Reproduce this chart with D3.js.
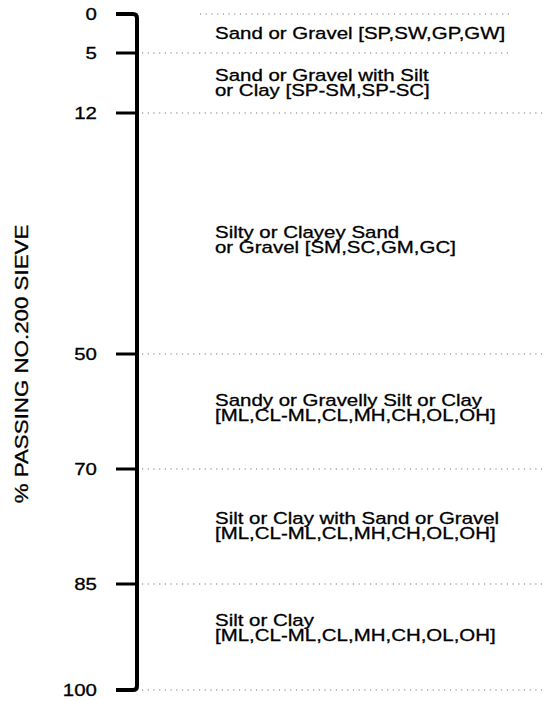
<!DOCTYPE html>
<html>
<head>
<meta charset="utf-8">
<script src="https://cdn.jsdelivr.net/npm/d3@7"></script>
<style>
  body { margin: 0; background: #fff; }
  text { font-family: "Liberation Sans", Arial, sans-serif; fill: #000; stroke: #000; stroke-width: 0.3px; }
</style>
</head>
<body>
<script>
// tick values along the % passing axis (schematic, not to scale)
const tickValues = [0, 5, 12, 50, 70, 85, 100];

// soil class labels, one per band between ticks
const bandLabels = [
  ["Sand or Gravel [SP,SW,GP,GW]"],
  ["Sand or Gravel with Silt", "or Clay [SP-SM,SP-SC]"],
  ["Silty or Clayey Sand", "or Gravel [SM,SC,GM,GC]"],
  ["Sandy or Gravelly Silt or Clay", "[ML,CL-ML,CL,MH,CH,OL,OH]"],
  ["Silt or Clay with Sand or Gravel", "[ML,CL-ML,CL,MH,CH,OL,OH]"],
  ["Silt or Clay", "[ML,CL-ML,CL,MH,CH,OL,OH]"]
];

const axisTitle = "% PASSING NO.200 SIEVE";

// layout
const width = 559, height = 701;
const axisX = 137;
const tickLen = 21;
const labelX = 215;
const lineH = 15;
const stretch = 1.24;
// pixel rows of the ticks on the printed schematic
const tickRows = [14, 53, 113, 354, 469, 584, 690];
const bandShift = [0, 0, 6, -4, -1, -9];

const y = d3.scaleLinear().domain(tickValues).range(tickRows);

const svg = d3.select('body').append('svg')
    .attr('width', width)
    .attr('height', height);

// dotted guide lines
svg.append('g').selectAll('line')
  .data(tickValues)
  .join('line')
    .attr('x1', (d, i) => i === 0 ? 200 : axisX + 5)
    .attr('x2', (d, i) => i < 2 ? 512 : 545)
    .attr('y1', d => y(d))
    .attr('y2', d => y(d))
    .attr('stroke', '#777')
    .attr('stroke-width', 1)
    .attr('stroke-dasharray', '1.2,4.5');

// main axis with curved ends
const y0 = y(tickValues[0]), y1 = y(tickValues[tickValues.length - 1]);
svg.append('path')
    .attr('d', `M${axisX - tickLen},${y0} H${axisX - 4} Q${axisX},${y0} ${axisX},${y0 + 4}` +
               ` V${y1 - 4} Q${axisX},${y1} ${axisX - 4},${y1} H${axisX - tickLen}`)
    .attr('fill', 'none')
    .attr('stroke', '#000')
    .attr('stroke-width', 4);

// inner ticks
svg.append('g').selectAll('line')
  .data(tickValues.slice(1, -1))
  .join('line')
    .attr('x1', axisX - tickLen)
    .attr('x2', axisX)
    .attr('y1', d => y(d))
    .attr('y2', d => y(d))
    .attr('stroke', '#000')
    .attr('stroke-width', 3);

// tick labels
svg.append('g').selectAll('text')
  .data(tickValues)
  .join('text')
    .attr('transform', d => `translate(97,${y(d)}) scale(${stretch},1)`)
    .attr('text-anchor', 'end')
    .attr('dy', '0.36em')
    .attr('font-size', 16.5)
    .text(d => d);

// band labels
const bands = bandLabels.map((lines, i) => ({
  lines,
  mid: (y(tickValues[i]) + y(tickValues[i + 1])) / 2 + bandShift[i]
}));

svg.append('g').selectAll('text')
  .data(bands)
  .join('text')
    .attr('transform', d => `translate(${labelX},${d.mid - (d.lines.length - 1) * lineH / 2 + 5.8}) scale(${stretch},1)`)
    .attr('font-size', 16.5)
    .selectAll('tspan')
    .data(d => d.lines)
    .join('tspan')
      .attr('x', 0)
      .attr('y', (d, i) => i * lineH)
      .text(d => d);

// axis title
svg.append('text')
    .attr('transform', `translate(28,${(y0 + y1) / 2 + 12}) rotate(-90) scale(${stretch},1)`)
    .attr('text-anchor', 'middle')
    .attr('font-size', 18)
    .text(axisTitle);
</script>
</body>
</html>
